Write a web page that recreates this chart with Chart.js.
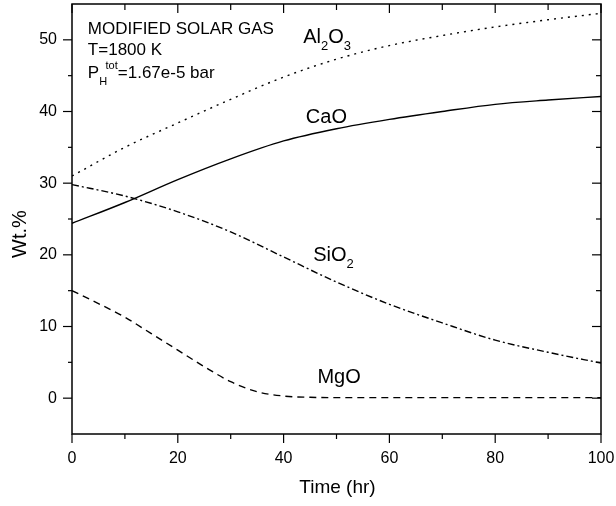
<!DOCTYPE html>
<html>
<head>
<meta charset="utf-8">
<script src="https://cdn.jsdelivr.net/npm/chart.js@4.4.0/dist/chart.umd.min.js"></script>
<style>
  html, body { margin: 0; padding: 0; background: #fff; }
  #wrap { width: 616px; height: 506px; }
</style>
</head>
<body>
<div id="wrap"><canvas id="chart"></canvas></div>
<script>
// time (hr) and wt.%
const hours = [0, 10, 20, 30, 40, 50, 60, 70, 80, 90, 100];
const al2o3 = [31.0, 35.0, 38.4, 41.7, 44.8, 47.3, 49.2, 50.6, 51.8, 52.8, 53.7];
const cao   = [24.4, 27.3, 30.5, 33.4, 35.9, 37.6, 38.9, 40.0, 41.0, 41.6, 42.1];
const sio2  = [29.8, 28.2, 26.0, 23.2, 19.7, 16.2, 13.1, 10.5, 8.1, 6.4, 4.9];
const mgoHours = [0, 5, 10, 15, 20, 25, 30, 35, 40, 45, 50, 60, 70, 80, 90, 100];
const mgo      = [15.0, 13.2, 11.3, 9.0, 6.7, 4.4, 2.3, 0.9, 0.3, 0.12, 0.08, 0.08, 0.08, 0.08, 0.08, 0.08];
const xTicks = [0, 20, 40, 60, 80, 100];
const yTicks = [0, 10, 20, 30, 40, 50];

const FONT = "'Liberation Sans', Arial, sans-serif";

const pts = (xs, ys) => xs.map((x, i) => ({ x: x, y: ys[i] }));

// text drawn on the plot: [text, dy, size]
const notes = [
  { x: 3, y: 50.8, parts: [['MODIFIED SOLAR GAS', 0, 17]] },
  { x: 3, y: 47.9, parts: [['T=1800 K', 0, 17]] },
  { x: 3, y: 44.7, parts: [['P', 0, 17], ['H', 7, 11], ['tot', -9, 11], ['=1.67e-5 bar', 0, 17]] },
  { x: 43.7, y: 49.5, parts: [['Al', 0, 20], ['2', 7, 13], ['O', 0, 20], ['3', 7, 13]] },
  { x: 44.2, y: 38.4, parts: [['CaO', 0, 20]] },
  { x: 45.6, y: 19.1, parts: [['SiO', 0, 20], ['2', 7, 13]] },
  { x: 46.4, y: 2.1, parts: [['MgO', 0, 20]] }
];

const decor = {
  id: 'decor',
  afterDatasetsDraw(chart) {
    const { ctx, chartArea: a, scales: { x, y } } = chart;
    ctx.save();
    ctx.strokeStyle = '#000';
    ctx.lineWidth = 1.5;
    ctx.strokeRect(a.left, a.top, a.right - a.left, a.bottom - a.top);
    ctx.lineWidth = 1.2;
    const seg = (x1, y1, x2, y2) => { ctx.beginPath(); ctx.moveTo(x1, y1); ctx.lineTo(x2, y2); ctx.stroke(); };
    for (let v = 0; v <= 100; v += 10) {
      const px = x.getPixelForValue(v);
      const major = xTicks.includes(v);
      seg(px, a.bottom, px, a.bottom + (major ? 9 : 5));
      seg(px, a.top, px, a.top + (major ? 9 : 6));
    }
    for (let v = 0; v <= 50; v += 5) {
      const py = y.getPixelForValue(v);
      const major = yTicks.includes(v);
      seg(a.left - (major ? 9 : 4), py, a.left, py);
      seg(a.right - (major ? 9 : 5), py, a.right, py);
    }

    ctx.fillStyle = '#000';
    ctx.textAlign = 'left';
    ctx.textBaseline = 'alphabetic';
    notes.forEach(n => {
      let cx = x.getPixelForValue(n.x);
      const by = y.getPixelForValue(n.y);
      n.parts.forEach(([t, dy, size], i) => {
        ctx.font = size + 'px ' + FONT;
        // superscript after a subscript starts at the same x
        if (dy < 0 && i > 0 && n.parts[i - 1][1] > 0) {
          cx -= ctx.measureText(n.parts[i - 1][0]).width * 0.2;
        }
        ctx.fillText(t, cx, by + dy);
        cx += ctx.measureText(t).width;
      });
    });

    // axis titles
    ctx.font = '19px ' + FONT;
    ctx.textAlign = 'center';
    ctx.fillText('Time (hr)', (a.left + a.right) / 2 + 1, 493);
    ctx.font = '20px ' + FONT;
    ctx.translate(26, y.getPixelForValue(22.9));
    ctx.rotate(-Math.PI / 2);
    ctx.fillText('Wt.%', 0, 0);
    ctx.restore();
  }
};

const base = { borderColor: '#000', borderWidth: 1.4, pointRadius: 0, fill: false, cubicInterpolationMode: 'monotone' };

new Chart(document.getElementById('chart'), {
  type: 'line',
  data: {
    datasets: [
      Object.assign({ label: 'Al2O3', data: pts(hours, al2o3), borderDash: [2, 5] }, base),
      Object.assign({ label: 'CaO', data: pts(hours, cao) }, base),
      Object.assign({ label: 'SiO2', data: pts(hours, sio2), borderDash: [7, 3, 2, 3] }, base),
      Object.assign({ label: 'MgO', data: pts(mgoHours, mgo), borderDash: [7, 5] }, base)
    ]
  },
  options: {
    responsive: true,
    maintainAspectRatio: false,
    animation: false,
    layout: { padding: { top: 4, right: 15, left: 0, bottom: 0 } },
    plugins: { legend: { display: false }, tooltip: { enabled: false } },
    scales: {
      x: {
        type: 'linear',
        min: 0,
        max: 100,
        afterBuildTicks: s => { s.ticks = xTicks.map(v => ({ value: v })); },
        afterFit: s => { s.height = 72; s.paddingLeft = 0; s.paddingRight = 0; },
        grid: { display: false, drawTicks: false },
        border: { display: false },
        ticks: { color: '#000', font: { family: FONT, size: 16 }, padding: 15, maxRotation: 0 }
      },
      y: {
        min: -5,
        max: 55,
        afterBuildTicks: s => { s.ticks = yTicks.map(v => ({ value: v })); },
        afterFit: s => { s.width = 72; s.paddingTop = 0; s.paddingBottom = 0; },
        grid: { display: false, drawTicks: false },
        border: { display: false },
        ticks: { color: '#000', font: { family: FONT, size: 16 }, padding: 15 }
      }
    }
  },
  plugins: [decor]
});
</script>
</body>
</html>
